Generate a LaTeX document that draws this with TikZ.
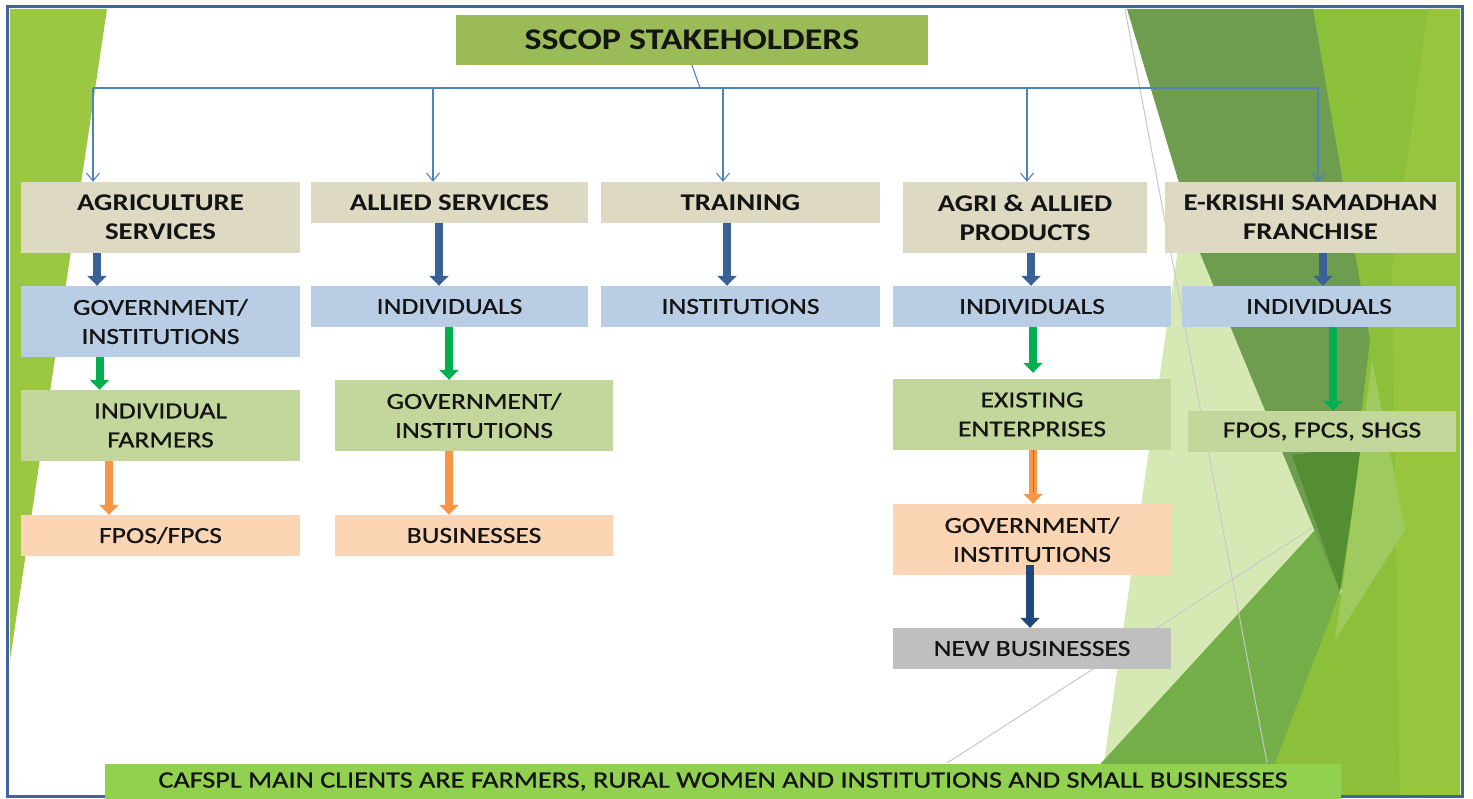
\documentclass[tikz,border=0pt]{standalone}
\usepackage{fontspec}
\setmainfont{Carlito}[FakeStretch=1.2, UprightFeatures={FakeBold=0.8}]
\usetikzlibrary{arrows.meta}
\definecolor{hdrc}{HTML}{DDD9C3}
\definecolor{bluec}{HTML}{B9CDE5}
\definecolor{greenc}{HTML}{C3D69B}
\definecolor{peachc}{HTML}{FCD5B5}
\definecolor{greyc}{HTML}{BFBFBF}
\definecolor{titlec}{HTML}{9BBB59}
\definecolor{bannerc}{HTML}{92D050}
\definecolor{arblue}{HTML}{3A6096}
\definecolor{argreen}{HTML}{00B050}
\definecolor{arorange}{HTML}{F79646}
\definecolor{arnavy}{HTML}{1F497D}
\definecolor{connc}{HTML}{4F81BD}
\definecolor{framec}{HTML}{41649A}
\definecolor{txt}{HTML}{141414}
\definecolor{leftg}{HTML}{9BC741}
\definecolor{yg}{HTML}{8CBF3A}
\definecolor{ygl}{HTML}{98C53E}
\definecolor{paleg}{HTML}{D6E9B5}
\definecolor{medg}{HTML}{74AE48}
\definecolor{darkg}{HTML}{6E9D50}
\definecolor{darkerg}{HTML}{548E33}
\definecolor{lightg}{HTML}{9FCB5E}
\definecolor{faint}{HTML}{C8C8C8}
\begin{document}
\begin{tikzpicture}[x=1pt,y=-1pt,
  box/.style={inner sep=0pt, align=center, text=txt, font=\fontsize{23}{29}\selectfont},
  sz/.style 2 args={minimum width=#1, minimum height=#2},
  hdr/.style={box, fill=hdrc, font=\bfseries\fontsize{24}{29}\selectfont},
  bbox/.style={box, fill=bluec},
  gbox/.style={box, fill=greenc},
  pbox/.style={box, fill=peachc},
  ybox/.style={box, fill=greyc},
  fat/.style={draw=#1, line width=8pt, -{Triangle[width=19pt,length=10pt]}},
  conn/.style={draw=connc, line width=1.1pt},
  connar/.style={conn, -{Straight Barb[width=13pt,length=8pt,line width=1.1pt]}}
]
\useasboundingbox (0,0) rectangle (1473,799);
\fill[white] (0,0) rectangle (1473,799);
% background left
\fill[leftg] (10,9) -- (107,9) -- (10,660) -- cycle;
% background right
\fill[yg] (1295,9) -- (1460,9) -- (1460,796) -- (1250,796) -- cycle;
\fill[ygl] (1428,9) -- (1460,9) -- (1460,796) -- (1400,796) -- (1392,270) -- cycle;
\fill[paleg] (1180,235) -- (1260,235) -- (1342,592) -- (1100,790) -- cycle;
\fill[medg] (1070,797) -- (1315,530) -- (1340,592) -- (1262,797) -- cycle;
\fill[darkg] (1127,9) -- (1313,9) -- (1370,340) -- (1340,592) -- (1200,253) -- cycle;
\fill[darkerg] (1292,455) -- (1362,445) -- (1340,592) -- cycle;
\fill[lightg] (1372,360) -- (1405,530) -- (1335,640) -- (1342,592) -- cycle;
\draw[faint, line width=1pt] (1125,9) -- (1267,763);
\draw[faint, line width=1pt] (947,763) -- (1312,528);
% frame
\draw[framec, line width=3pt] (7.5,7) rectangle (1462,796.5);

% title
\node[box, fill=titlec, sz={472pt}{50pt}, font=\bfseries\fontsize{30}{36}\selectfont] (title) at (692,40) {SSCOP STAKEHOLDERS};

% row 1
\node[hdr, sz={279pt}{71pt}] (as) at (160.5,217.5) {AGRICULTURE\\SERVICES};
\node[hdr, sz={277pt}{41pt}] (al) at (449.5,202.5) {ALLIED SERVICES};
\node[hdr, sz={279pt}{41pt}] (tr) at (740.5,202.5) {TRAINING};
\node[hdr, sz={244pt}{71pt}] (ap) at (1025,217.5) {AGRI \& ALLIED\\PRODUCTS};
\node[hdr, sz={291pt}{71pt}] (ek) at (1310.5,217.5) {E-KRISHI SAMADHAN\\FRANCHISE};
% row 2
\node[bbox, sz={279pt}{71pt}] (g1) at (160.5,321.5) {GOVERNMENT/\\INSTITUTIONS};
\node[bbox, sz={277pt}{41pt}] (i2) at (449.5,306.5) {INDIVIDUALS};
\node[bbox, sz={279pt}{41pt}] (it) at (740.5,306.5) {INSTITUTIONS};
\node[bbox, sz={278pt}{41pt}] (i4) at (1032,306.5) {INDIVIDUALS};
\node[bbox, sz={274pt}{41pt}] (i5) at (1319,306.5) {INDIVIDUALS};
% row 3
\node[gbox, sz={279pt}{71pt}] (f1) at (160.5,425.5) {INDIVIDUAL\\FARMERS};
\node[gbox, sz={278pt}{71pt}] (g2) at (474,415.5) {GOVERNMENT/\\INSTITUTIONS};
\node[gbox, sz={278pt}{71pt}] (ee) at (1032,414.5) {EXISTING\\ENTERPRISES};
\node[gbox, sz={268pt}{41pt}] (fs) at (1322,431.5) {FPOS, FPCS, SHGS};
% row 4
\node[pbox, sz={279pt}{41pt}] (fp) at (160.5,535.5) {FPOS/FPCS};
\node[pbox, sz={278pt}{41pt}] (bu) at (474,535.5) {BUSINESSES};
\node[pbox, sz={278pt}{71pt}] (g4) at (1032,539.5) {GOVERNMENT/\\INSTITUTIONS};
% row 5
\node[ybox, sz={278pt}{41pt}] (nb) at (1032,648.5) {NEW BUSINESSES};
% banner
\node[box, fill=bannerc, sz={1236pt}{35pt}, font=\fontsize{23.5}{28}\selectfont] (ban) at (723,781.5) {CAFSPL MAIN CLIENTS ARE FARMERS, RURAL WOMEN AND INSTITUTIONS AND SMALL BUSINESSES};

% thin connectors
\coordinate (bus) at (700,88);
\coordinate (b1) at (93,88);
\coordinate (b2) at (433,88);
\coordinate (b3) at (723,88);
\coordinate (b4) at (1027,88);
\coordinate (b5) at (1318,88);
\draw[conn] (title.south) -- (bus);
\draw[conn] (b1) -- (b5);
\draw[connar] (b1) -- (b1 |- as.north);
\draw[connar] (b2) -- (b2 |- al.north);
\draw[connar] (b3) -- (b3 |- tr.north);
\draw[connar] (b4) -- (b4 |- ap.north);
\draw[connar] (b5) -- (b5 |- ek.north);

% fat arrows
\draw[fat=arblue] ([xshift=-63.5pt]as.south) -- ([xshift=-63.5pt]g1.north);
\draw[fat=argreen] ([xshift=-61pt]g1.south) -- ([xshift=-61pt]f1.north);
\draw[fat=arorange] ([xshift=-51.5pt]f1.south) -- ([xshift=-51.5pt]fp.north);
\draw[fat=arblue] ([xshift=-10.5pt]al.south) -- ([xshift=-10.5pt]i2.north);
\draw[fat=argreen] ([xshift=-0.5pt]i2.south) -- ([xshift=-25pt]g2.north);
\draw[fat=arorange] ([xshift=-25pt]g2.south) -- ([xshift=-25pt]bu.north);
\draw[fat=arblue] ([xshift=-13.5pt]tr.south) -- ([xshift=-13.5pt]it.north);
\draw[fat=arblue] ([xshift=6pt]ap.south) -- ([xshift=-1pt]i4.north);
\draw[fat=argreen] ([xshift=1pt]i4.south) -- ([xshift=1pt,yshift=6pt]ee.north);
\draw[fat=arorange] ([xshift=1pt]ee.south) -- ([xshift=1pt]g4.north);
\draw[draw=connc!70!gray, line width=0.8pt] ([xshift=1pt]ee.south) -- ([xshift=1pt,yshift=-42pt]ee.south);
\draw[fat=arnavy] ([xshift=-2pt,yshift=10pt]g4.south) -- ([xshift=-2pt]nb.north);
\draw[fat=arblue] ([xshift=12.5pt]ek.south) -- ([xshift=4pt]i5.north);
\draw[fat=argreen] ([xshift=14pt]i5.south) -- ([xshift=11pt]fs.north);
\end{tikzpicture}
\end{document}
